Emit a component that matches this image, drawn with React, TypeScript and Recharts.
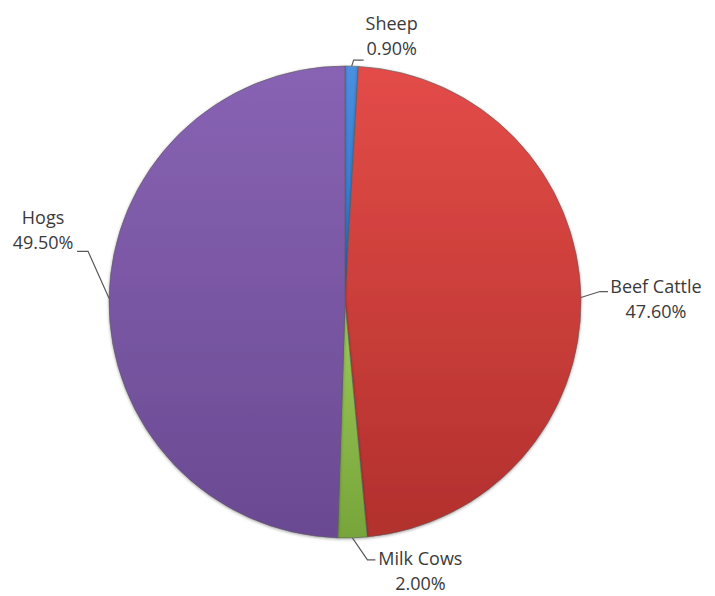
import React from 'react';
import { PieChart, Pie, Cell } from 'recharts';

const categories = ['Sheep', 'Beef Cattle', 'Milk Cows', 'Hogs'];
const shares = [0.9, 47.6, 2.0, 49.5];

const data = categories.map((name, i) => ({ name, value: shares[i] }));

// top / bottom shade for each slice
const SHADES = [
  ['#4a90e0', '#2a6cc0'],
  ['#e34c48', '#b2302d'],
  ['#9cc95a', '#77a53a'],
  ['#8863b4', '#6a4a92'],
];

// leader line elbow + text placement, relative to the slice edge point
const LABEL_POS = [
  { elbow: [2, -6], end: [12, -6], text: [40, -36] },
  { elbow: [19, -6], end: [27, -6], text: [75, -5] },
  { elbow: [15, 22], end: [23, 22], text: [68, 27] },
  { elbow: [-21, -47], end: [-32, -47], text: [-66, -74] },
];

const RAD = Math.PI / 180;

function renderLabel(props: any) {
  const { cx, cy, midAngle, outerRadius, index, name, value } = props;
  const x0 = cx + outerRadius * Math.cos(midAngle * RAD);
  const y0 = cy - outerRadius * Math.sin(midAngle * RAD);
  const p = LABEL_POS[index];
  const tx = x0 + p.text[0];
  const ty = y0 + p.text[1];
  return (
    <g key={`lbl-${index}`}>
      <polyline
        points={`${x0},${y0} ${x0 + p.elbow[0]},${y0 + p.elbow[1]} ${x0 + p.end[0]},${y0 + p.end[1]}`}
        fill="none"
        stroke="#595959"
        strokeWidth={1.2}
      />
      <text x={tx} y={ty} textAnchor="middle" fill="#3a3a3a" fontSize={18} fontFamily="'Open Sans', sans-serif">
        <tspan x={tx} dy="0">{name}</tspan>
        <tspan x={tx} dy="25">{`${value.toFixed(2)}%`}</tspan>
      </text>
    </g>
  );
}

export default function App() {
  return (
    <div style={{ position: 'absolute', left: 0, top: 0, width: 715, height: 596, background: '#fff' }}>
      <PieChart width={715} height={596} margin={{ top: 0, right: 0, bottom: 0, left: 0 }}>
        <defs>
          {SHADES.map((c, i) => (
            <linearGradient key={i} id={`shade-${i}`} x1="0" y1="0" x2="0" y2="1">
              <stop offset="0%" stopColor={c[0]} />
              <stop offset="100%" stopColor={c[1]} />
            </linearGradient>
          ))}
          <filter id="pieShadow" x="-10%" y="-10%" width="120%" height="120%">
            <feDropShadow dx="0" dy="1" stdDeviation="1.5" floodColor="#000" floodOpacity="0.35" />
          </filter>
        </defs>
        <Pie
          data={data}
          dataKey="value"
          nameKey="name"
          cx={345}
          cy={302}
          outerRadius={236}
          startAngle={90}
          endAngle={-270}
          stroke="#5a5a5a"
          strokeWidth={0.6}
          label={renderLabel}
          labelLine={false}
          isAnimationActive={false}
          style={{ filter: 'url(#pieShadow)' }}
        >
          {data.map((entry, index) => (
            <Cell key={`cell-${index}`} fill={`url(#shade-${index})`} />
          ))}
        </Pie>
      </PieChart>
    </div>
  );
}
